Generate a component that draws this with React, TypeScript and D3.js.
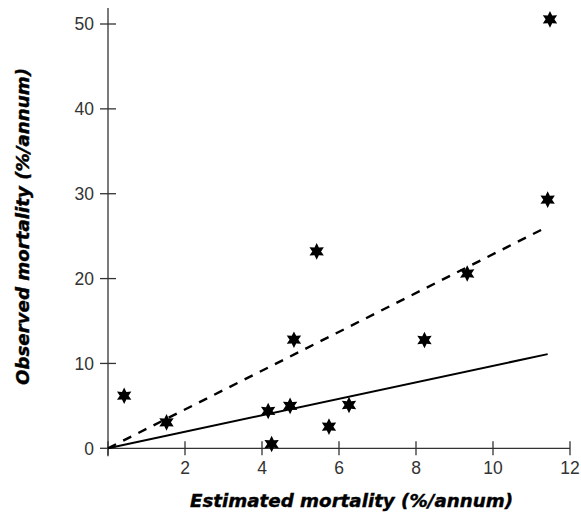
import React from "react";
import * as d3 from "d3";

const estimated = [0.42, 1.52, 4.16, 4.25, 4.73, 4.83, 5.42, 5.74, 6.26, 8.22, 9.33, 11.42, 11.48];
const observed = [6.2, 3.06, 4.4, 0.5, 5.0, 12.8, 23.2, 2.55, 5.1, 12.76, 20.6, 29.3, 50.55];
const solidLine = [[0, 0], [11.42, 11.1]];
const dashedLine = [[0, 0], [11.28, 25.8]];
const xTicks = [0, 2, 4, 6, 8, 10, 12];
const xTickLabels = ["", "2", "4", "6", "8", "10", "12"];
const yTicks = [0, 10, 20, 30, 40, 50];
const xTitle = "Estimated mortality (%/annum)";
const yTitle = "Observed mortality (%/annum)";

function starPath(R: number, r: number) {
  const pts: [number, number][] = [];
  for (let i = 0; i < 12; i++) {
    const a = (i * Math.PI) / 6 - Math.PI / 2;
    const rad = i % 2 === 0 ? R : r;
    pts.push([rad * Math.cos(a), rad * Math.sin(a)]);
  }
  return d3.line()(pts) + "Z";
}

export default function App() {
  const W = 581, H = 516;
  const x = d3.scaleLinear().domain([0, 12]).range([108, 570]);
  const y = d3.scaleLinear().domain([0, 50]).range([448.3, 24]);
  const line = d3.line<number[]>().x((d) => x(d[0])).y((d) => y(d[1]));
  const star = starPath(8.3, 4.4);
  const font = "'Liberation Sans', Arial, sans-serif";
  const titleFont = "'DejaVu Sans', sans-serif";
  return (
    <svg width={W} height={H} style={{ position: "absolute", left: 0, top: 0 }}>
      <rect width={W} height={H} fill="#fff" />
      {/* axes */}
      <line x1={x(0)} x2={x(0)} y1={8} y2={y(0) + 8} stroke="#333" strokeWidth={1.3} />
      <line x1={x(0)} x2={x(12)} y1={y(0)} y2={y(0)} stroke="#333" strokeWidth={1.3} />
      {xTicks.map((t, i) => (
        <g key={"xt" + i}>
          <line x1={x(t)} x2={x(t)} y1={y(0) - 7} y2={y(0) + 7} stroke="#333" strokeWidth={1.3} />
          <text x={x(t)} y={y(0) + 26} textAnchor="middle" fontFamily={font} fontSize={17.5} fill="#333">
            {xTickLabels[i]}
          </text>
        </g>
      ))}
      {yTicks.map((t) => (
        <g key={"yt" + t}>
          <line x1={x(0) - 8} x2={x(0) + 8} y1={y(t)} y2={y(t)} stroke="#333" strokeWidth={1.3} />
          <text x={x(0) - 14} y={y(t)} dy="0.36em" textAnchor="end" fontFamily={font} fontSize={17.5} fill="#333">
            {t}
          </text>
        </g>
      ))}
      {/* lines */}
      <path d={line(solidLine) || ""} stroke="#000" strokeWidth={2} fill="none" />
      <path d={line(dashedLine) || ""} stroke="#000" strokeWidth={2.4} fill="none" strokeDasharray="9,8" />
      {/* points */}
      {estimated.map((e, i) => (
        <path key={"p" + i} d={star} transform={`translate(${x(e)},${y(observed[i])})`} fill="#000" />
      ))}
      {/* titles */}
      <text x={351.5} y={506.5} textAnchor="middle" fontFamily={titleFont} fontSize={18} fontWeight={900} fontStyle="italic" fill="#000"
        textLength={323} lengthAdjust="spacingAndGlyphs" stroke="#000" strokeWidth={0.4}>
        {xTitle}
      </text>
      <text transform={`translate(29,226.5) rotate(-90)`} textAnchor="middle" fontFamily={titleFont} fontSize={18} fontWeight={900} fontStyle="italic" fill="#000"
        textLength={317} lengthAdjust="spacingAndGlyphs" stroke="#000" strokeWidth={0.4}>
        {yTitle}
      </text>
    </svg>
  );
}
